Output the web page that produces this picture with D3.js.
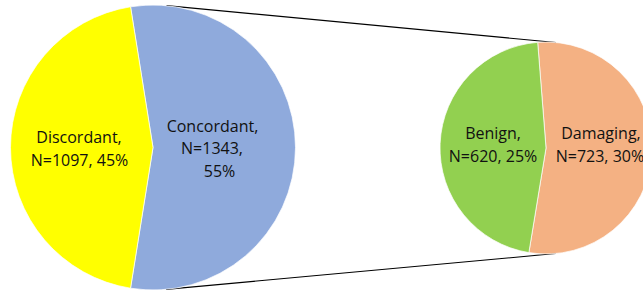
<!DOCTYPE html>
<meta charset="utf-8">
<script src="https://d3js.org/d3.v7.min.js"></script>
<style>
  body { margin: 0; background: #fff; }
  svg text { font-family: "Open Sans", sans-serif; font-size: 16px; fill: #111; }
</style>
<div id="chart"></div>
<script>
  // left pie: all variants
  var mainNames = ["Concordant", "Discordant"];
  var mainValues = [1343, 1097];
  var mainPct = ["55%", "45%"];
  var mainColors = ["#8faadc", "#ffff00"];

  // right pie: breakdown of Concordant
  var subNames = ["Damaging", "Benign"];
  var subValues = [723, 620];
  var subPct = ["30%", "25%"];
  var subColors = ["#f4b183", "#92d050"];

  var width = 643, height = 293;
  var svg = d3.select("#chart").append("svg")
    .attr("width", width).attr("height", height);

  var deg = Math.PI / 180;
  var big = {cx: 153, cy: 147.5, r: 142.5, start: -9.07};
  var small = {cx: 546, cy: 148, r: 106, start: -4.5};

  // connector lines = outer tangents of the two circles
  var dx = small.cx - big.cx, dy = small.cy - big.cy;
  var d = Math.sqrt(dx * dx + dy * dy);
  var base = Math.atan2(dy, dx);
  var a = Math.acos((big.r - small.r) / d);
  [base - a, base + a].forEach(function(t) {
    svg.append("line")
      .attr("x1", big.cx + big.r * Math.cos(t))
      .attr("y1", big.cy + big.r * Math.sin(t))
      .attr("x2", small.cx + small.r * Math.cos(t))
      .attr("y2", small.cy + small.r * Math.sin(t))
      .attr("stroke", "#000")
      .attr("stroke-width", 1.1);
  });

  function drawPie(p, values, colors) {
    var pie = d3.pie().sort(null)
      .startAngle(p.start * deg)
      .endAngle(p.start * deg + 2 * Math.PI);
    var arc = d3.arc().innerRadius(0).outerRadius(p.r);
    var g = svg.append("g").attr("transform", "translate(" + p.cx + "," + p.cy + ")");
    var arcs = pie(values);
    g.selectAll("path").data(arcs).enter().append("path")
      .attr("d", arc)
      .attr("fill", function(d, i) { return colors[i]; })
      .attr("stroke", "#fff")
      .attr("stroke-width", 0.7);
    return {g: g, arcs: arcs};
  }

  function label(g, arcD, k, lines, dxs, y0) {
    var mid = (arcD.startAngle + arcD.endAngle) / 2;
    var x = k * Math.sin(mid);
    var t = g.append("text").attr("text-anchor", "middle");
    lines.forEach(function(s, i) {
      t.append("tspan").attr("x", x + (dxs[i] || 0)).attr("y", y0 + i * 22.7).text(s);
    });
  }

  var L = drawPie(big, mainValues, mainColors);
  var R = drawPie(small, subValues, subColors);

  label(L.g, L.arcs[0], 59, [mainNames[0] + ",", "N=" + mainValues[0] + ",", mainPct[0]], [0.5, 0, 7.5], -15.8);
  label(L.g, L.arcs[1], 74, [mainNames[1] + ",", "N=" + mainValues[1] + ", " + mainPct[1]], [0, 0.5], -4.2);
  label(R.g, R.arcs[0], 54, [subNames[0] + ",", "N=" + subValues[0] + ", " + subPct[0]], [1, 0], -9);
  label(R.g, R.arcs[1], 53, [subNames[1] + ",", "N=" + subValues[1] + ", " + subPct[1]], [0, 0], -9);
</script>
